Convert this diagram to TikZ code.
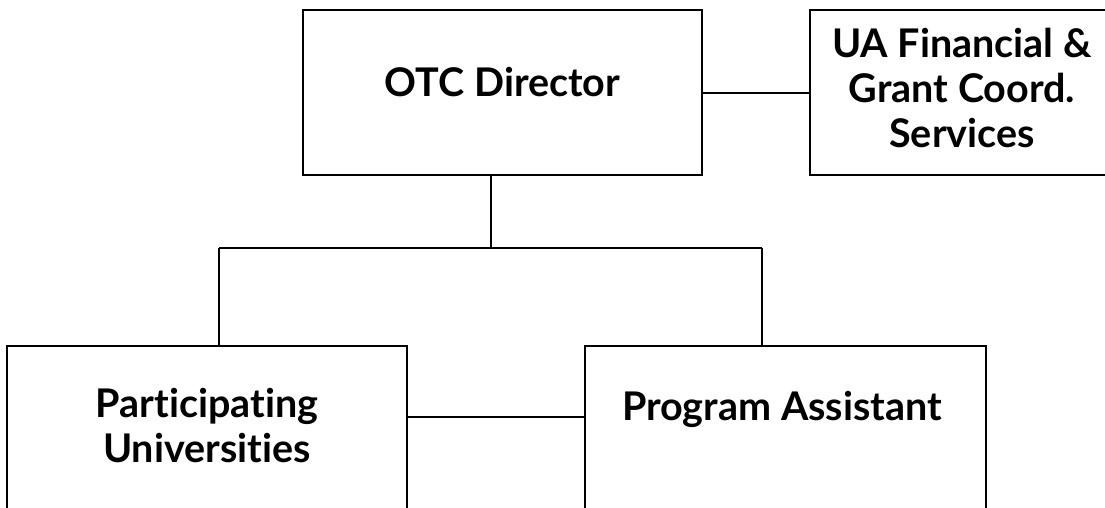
\documentclass[tikz,border=0pt]{standalone}
\usepackage{fontspec}
\setmainfont{Lato}[Ligatures={NoCommon}]
\begin{document}
\begin{tikzpicture}[x=1pt,y=-1pt,
  orgbox/.style={draw=black,line width=2.5pt,rectangle,inner sep=0pt},
  link/.style={draw=black,line width=1.7pt},
  label/.style={font=\fontsize{39.5}{44.5}\selectfont\bfseries,align=center,inner sep=0pt,anchor=base}]
\useasboundingbox (0,0) rectangle (1105,508);
\clip (0,0) rectangle (1105,508);
% boxes (the lower row and the right box run past the page edge)
\node[orgbox,minimum width=399pt,minimum height=165pt] (otc) at (502.5,92.5) {};
\node[orgbox,minimum width=310pt,minimum height=165pt] (ua) at (965,92.5) {};
\node[orgbox,minimum width=400pt,minimum height=240pt] (pu) at (207,466) {};
\node[orgbox,minimum width=401pt,minimum height=240pt] (pa) at (785.5,466) {};
% texts, placed by the baseline of their last line
\node[label] (otct) at (502.5,96.5) {OTC Director};
\node[label] (uat) at (962,147) {UA Financial \&\\Grant Coord.\\Services};
\node[label] (put) at (207,462) {Participating\\Universities};
\node[label] (pat) at (782,420) {Program Assistant};
% connectors
\coordinate (bus) at (490.7,248);
\coordinate (busl) at (219,248);
\coordinate (busr) at (762,248);
\coordinate (h1) at (0,93);
\coordinate (h2) at (0,417);
\draw[link] (otc.east |- h1) -- (ua.west |- h1);
\draw[link] (bus |- otc.south) -- (bus);
\draw[link] (busl) -- (busr);
\draw[link] (busl) -- (busl |- pu.north);
\draw[link] (busr) -- (busr |- pa.north);
\draw[link] (pu.east |- h2) -- (pa.west |- h2);
\end{tikzpicture}
\end{document}
